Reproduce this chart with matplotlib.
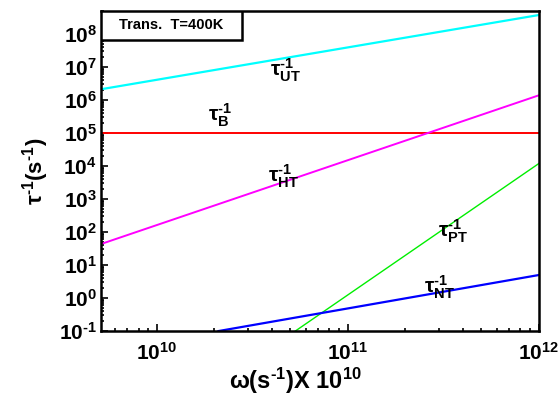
import numpy as np
import matplotlib
matplotlib.use('Agg')
import matplotlib.pyplot as plt
from matplotlib.patches import Rectangle
from matplotlib.ticker import LogLocator, FuncFormatter, NullFormatter

plt.rcParams['font.family'] = ['Liberation Sans', 'DejaVu Sans']
plt.rcParams['font.weight'] = 'bold'
plt.rcParams['mathtext.fontset'] = 'custom'
plt.rcParams['mathtext.rm'] = 'Liberation Sans:bold'
plt.rcParams['mathtext.it'] = 'Liberation Sans:bold'
plt.rcParams['mathtext.bf'] = 'Liberation Sans:bold'
plt.rcParams['mathtext.default'] = 'regular'

# frequency end points (s^-1) and relaxation rates
omega_ut = [5e9, 1e12]
rate_ut = [2.1e6, 3.8e8]
omega_b = [5e9, 1e12]
rate_b = [1e5, 1e5]
omega_ht = [5e9, 1e12]
rate_ht = [42, 1.4e6]
omega_pt = [5.3e10, 1e12]
rate_pt = [0.1, 1.2e4]
omega_nt = [2.1e10, 1e12]
rate_nt = [0.1, 5.0]

HY = '\u2010'  # short hyphen as in the original superscripts

fig = plt.figure(figsize=(5.59, 3.96), dpi=100)
ax = fig.add_axes([0.181, 0.164, 0.783, 0.808])

ax.plot(omega_ut, rate_ut, color='#00ffff', lw=1.6)
ax.plot(omega_b, rate_b, color='#ff0000', lw=1.4)
ax.plot(omega_ht, rate_ht, color='#ff00ff', lw=1.4)
ax.plot(omega_pt, rate_pt, color='#00ee00', lw=1.0)
ax.plot(omega_nt, rate_nt, color='#0000ff', lw=1.6)

ax.set_xscale('log')
ax.set_yscale('log')
ax.set_xlim(5.1e9, 1e12)
ax.set_ylim(0.1, 5e8)

ax.xaxis.set_major_locator(LogLocator(base=10, numticks=10))
ax.yaxis.set_major_locator(LogLocator(base=10, numticks=15))
ax.xaxis.set_minor_locator(LogLocator(base=10, subs=np.arange(2, 10), numticks=20))
ax.yaxis.set_minor_locator(LogLocator(base=10, subs=np.arange(2, 10), numticks=20))
fmt = FuncFormatter(lambda v, p: (r'$10^{%d}$' % int(round(np.log10(v)))).replace('-', HY))
ax.xaxis.set_major_formatter(fmt)
ax.yaxis.set_major_formatter(fmt)
ax.xaxis.set_minor_formatter(NullFormatter())
ax.yaxis.set_minor_formatter(NullFormatter())

ax.tick_params(which='both', direction='in', top=False, right=False, width=1.2)
ax.tick_params(which='major', length=5, labelsize=15)
ax.tick_params(which='minor', length=2.5)
ax.tick_params(axis='x', pad=8)
ax.tick_params(axis='y', pad=3)
for s in ax.spines.values():
    s.set_linewidth(1.8)

ax.set_xlabel('$\\omega(s^{%s1})$X $10^{10}$' % HY, fontsize=17, fontweight='bold', labelpad=1)
ax.xaxis.label.set_x(0.443)
ax.set_ylabel('$\\tau^{%s1}(s^{%s1})$' % (HY, HY), fontsize=16, fontweight='bold', labelpad=6)

lab = dict(fontsize=15, ha='left', va='center')
ax.text(3.9e10, 8.1e6, '$\\tau^{%s1}_{UT}$' % HY, **lab)
ax.text(1.85e10, 3.5e5, '$\\tau^{%s1}_{B}$' % HY, **lab)
ax.text(3.8e10, 5e3, '$\\tau^{%s1}_{HT}$' % HY, **lab)
ax.text(2.95e11, 107, '$\\tau^{%s1}_{PT}$' % HY, **lab)
ax.text(2.5e11, 2.15, '$\\tau^{%s1}_{NT}$' % HY, **lab)

ax.add_patch(Rectangle((0, 0.91), 0.322, 0.09, transform=ax.transAxes,
                       fc='white', ec='black', lw=1.8, zorder=5))
ax.text(0.161, 0.955, 'Trans.  T=400K', transform=ax.transAxes, fontsize=10.5,
        fontweight='bold', ha='center', va='center', zorder=6)

fig.savefig('out.png', dpi=100)
